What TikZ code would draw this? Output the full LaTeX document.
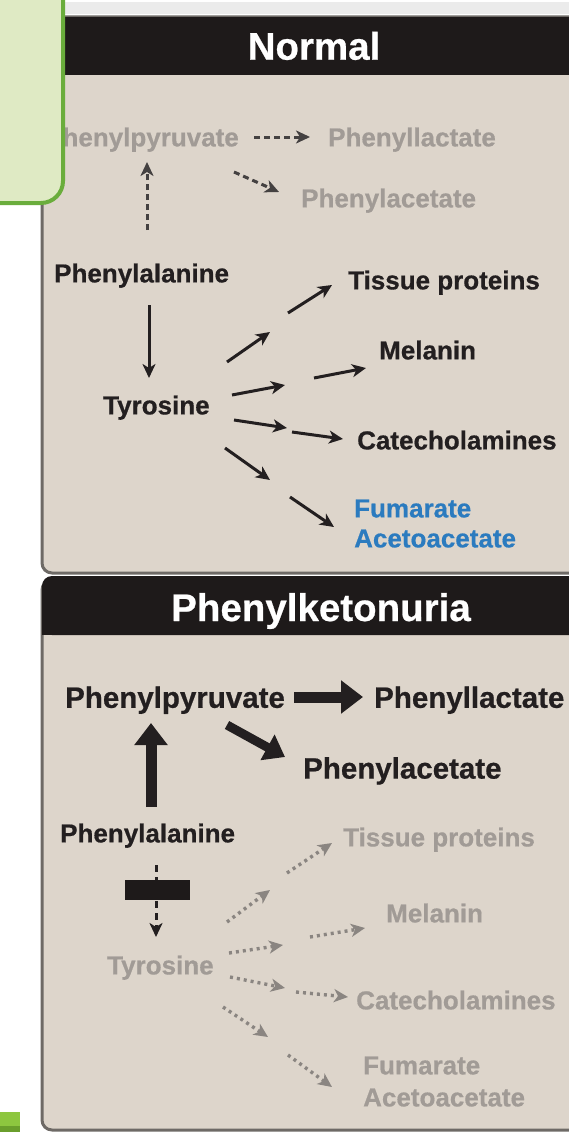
\documentclass[tikz,border=0pt]{standalone}
\usepackage{fontspec}
\setmainfont{Liberation Sans}[BoldFeatures={FakeBold=0.6}]
\usetikzlibrary{arrows.meta}
\definecolor{beige}{HTML}{DDD5CB}
\definecolor{hdrblack}{HTML}{1E1A1A}
\definecolor{ink}{HTML}{231F20}
\definecolor{faint}{HTML}{A19B96}
\definecolor{faintarr}{HTML}{8A8581}
\definecolor{fblue}{HTML}{2B7BBF}
\definecolor{panelborder}{HTML}{6E6A66}
\definecolor{gfill}{HTML}{DFEAC4}
\definecolor{gline}{HTML}{6AAD3C}
\definecolor{gsq}{HTML}{8DC63F}
\definecolor{gsqdark}{HTML}{6A9E2C}
\newcommand\mylblfont{\fontsize{26}{30}\selectfont\bfseries}
\newcommand\mybigfont{\fontsize{29.5}{34}\selectfont\bfseries}
\newcommand\myhdrfont{\fontsize{38.5}{44}\selectfont\bfseries}
\tikzset{
  lbl/.style={anchor=base west, inner sep=0pt, text=ink, font=\mylblfont},
  lblbig/.style={lbl, font=\mybigfont},
  faintlbl/.style={lbl, text=faint},
  bluelbl/.style={lbl, text=fblue},
  hdr/.style={anchor=base, inner sep=0pt, text=white, font=\myhdrfont},
  arr/.style={draw=ink, line width=3pt, -{Stealth[length=14pt,width=13pt,inset=4pt]}},
  darr/.style={arr, draw=ink!85, dash pattern=on 6pt off 4pt},
  garr/.style={draw=faintarr, line width=3.4pt, dash pattern=on 3pt off 4pt, -{Stealth[length=14pt,width=13pt,inset=4pt]}},
  fatarr/.style={draw=ink, line width=11pt, -{Triangle[length=22pt,width=32pt]}},
  panel/.style={fill=beige, draw=panelborder, line width=3pt},
}
\begin{document}
\begin{tikzpicture}[x=1pt,y=-1pt]
\useasboundingbox (0,0) rectangle (569,1132);
\clip (0,0) rectangle (569,1132);
\fill[white] (0,0) rectangle (569,1132);
\fill[black!8] (60,2) rectangle (569,14);
% Normal panel
\draw[panel, rounded corners=10pt] (42,17) rectangle (600,573);
\fill[hdrblack] (42,17) rectangle (600,75);
\node[hdr] (hn) at (314,59.7) {Normal};
% PKU panel
\draw[panel, rounded corners=10pt] (42,580) rectangle (600,1130);
\fill[hdrblack, rounded corners=10pt] (42,635) -- (42,576) -- (600,576) -- (600,635) -- cycle;
\fill[hdrblack] (42,620) rectangle (600,635);
\node[hdr] (hp) at (321,621) {Phenylketonuria};

% ---------- Normal labels
\node[faintlbl, anchor=base east] (pp1) at (239,146.4) {Phenylpyruvate};
\node[faintlbl] (pl1) at (328,146.4) {Phenyllactate};
\node[faintlbl] (pa1) at (301,207.4) {Phenylacetate};
\node[lbl] (phe1) at (54,282.4) {Phenylalanine};
\node[lbl] (tyr1) at (103,414.4) {Tyrosine};
\node[lbl] (tis1) at (348,289.4) {Tissue proteins};
\node[lbl] (mel1) at (379,359.4) {Melanin};
\node[lbl] (cat1) at (357,449.4) {Catecholamines};
\node[bluelbl] (fum1) at (354,517.4) {Fumarate};
\node[bluelbl] (ace1) at (354,547.4) {Acetoacetate};

% Normal connectors
\coordinate (c1a) at (254,137); \coordinate (c1b) at (310,137);
\coordinate (c2a) at (234,172); \coordinate (c2b) at (279,192);
\coordinate (c3a) at (147,230); \coordinate (c3b) at (147,162);
\coordinate (c4a) at (149,305); \coordinate (c4b) at (149,378);
\coordinate (t1a) at (227,362); \coordinate (t1b) at (270,332);
\coordinate (t2a) at (288,313); \coordinate (t2b) at (332,285);
\coordinate (m1a) at (232,395); \coordinate (m1b) at (285,385);
\coordinate (m2a) at (314,378); \coordinate (m2b) at (366,368);
\coordinate (k1a) at (234,420); \coordinate (k1b) at (287,428);
\coordinate (k2a) at (292,432); \coordinate (k2b) at (343,439);
\coordinate (f1a) at (225,448); \coordinate (f1b) at (270,480);
\coordinate (f2a) at (290,497); \coordinate (f2b) at (334,527);
\draw[darr] (c1a) -- (c1b);
\draw[darr] (c2a) -- (c2b);
\draw[darr] (c3a) -- (c3b);
\draw[arr] (c4a) -- (c4b);
\draw[arr] (t1a) -- (t1b);
\draw[arr] (t2a) -- (t2b);
\draw[arr] (m1a) -- (m1b);
\draw[arr] (m2a) -- (m2b);
\draw[arr] (k1a) -- (k1b);
\draw[arr] (k2a) -- (k2b);
\draw[arr] (f1a) -- (f1b);
\draw[arr] (f2a) -- (f2b);

% ---------- PKU labels
\node[lblbig] (pp2) at (65,707.8) {Phenylpyruvate};
\node[lblbig] (pl2) at (374,707.8) {Phenyllactate};
\node[lblbig] (pa2) at (303,778.6) {Phenylacetate};
\node[lbl] (phe2) at (60,842.4) {Phenylalanine};
\node[faintlbl] (tis2) at (343,846.4) {Tissue proteins};
\node[faintlbl] (tyr2) at (107,974.4) {Tyrosine};
\node[faintlbl] (mel2) at (386,922.4) {Melanin};
\node[faintlbl] (cat2) at (356,1009.4) {Catecholamines};
\node[faintlbl] (fum2) at (363,1074.4) {Fumarate};
\node[faintlbl] (ace2) at (363,1106.4) {Acetoacetate};

% PKU connectors
\coordinate (P1a) at (294,697); \coordinate (P1b) at (363,697);
\coordinate (P2a) at (227,725); \coordinate (P2b) at (285,757);
\coordinate (P3a) at (151,807); \coordinate (P3b) at (151,723);
\coordinate (B1a) at (156,865); \coordinate (B1b) at (156,937);
\coordinate (T1a) at (227,922); \coordinate (T1b) at (270,890);
\coordinate (T2a) at (287,873); \coordinate (T2b) at (332,843);
\coordinate (M1a) at (229,953); \coordinate (M1b) at (283,945);
\coordinate (M2a) at (310,937); \coordinate (M2b) at (365,928);
\coordinate (K1a) at (230,977); \coordinate (K1b) at (285,988);
\coordinate (K2a) at (296,992); \coordinate (K2b) at (348,997);
\coordinate (F1a) at (223,1007); \coordinate (F1b) at (268,1037);
\coordinate (F2a) at (288,1055); \coordinate (F2b) at (332,1087);
\draw[fatarr] (P1a) -- (P1b);
\draw[fatarr, line width=9pt, -{Triangle[length=20pt,width=28pt]}] (P2a) -- (P2b);
\draw[fatarr] (P3a) -- (P3b);
\draw[arr, dash pattern=on 7pt off 5pt] (B1a) -- (B1b);
\fill[hdrblack] (125,880) rectangle (190,900);
\draw[garr] (T1a) -- (T1b);
\draw[garr] (T2a) -- (T2b);
\draw[garr] (M1a) -- (M1b);
\draw[garr] (M2a) -- (M2b);
\draw[garr] (K1a) -- (K1b);
\draw[garr] (K2a) -- (K2b);
\draw[garr] (F1a) -- (F1b);
\draw[garr] (F2a) -- (F2b);

% green overlay box top-left
\draw[fill=gfill, draw=gline, line width=4pt, rounded corners=22pt] (-30,-30) rectangle (63,203);
% green square bottom-left
\fill[gsq] (0,1112) rectangle (20,1132);
\fill[gsqdark] (0,1126) rectangle (20,1132);
\end{tikzpicture}
\end{document}
